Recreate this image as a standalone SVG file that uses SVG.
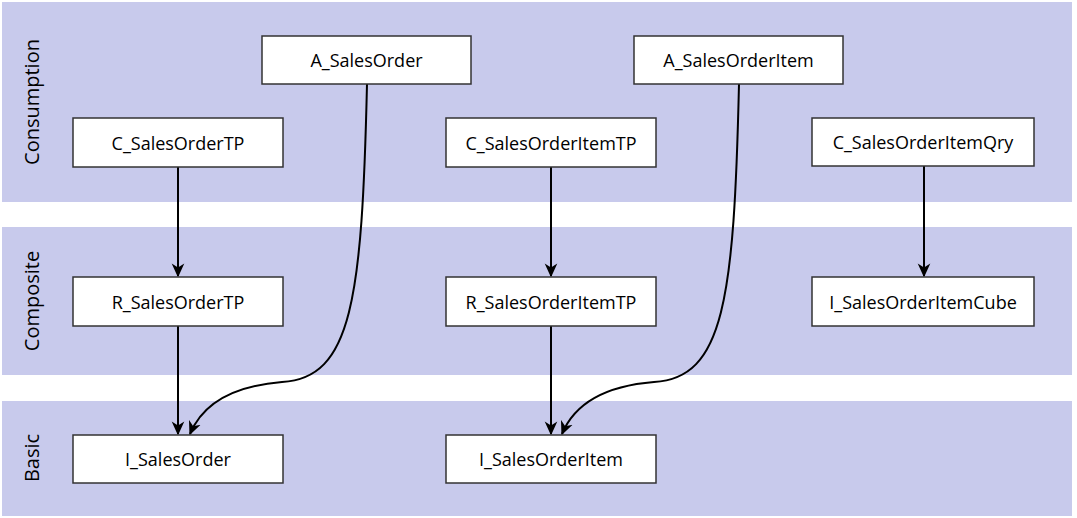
<svg xmlns="http://www.w3.org/2000/svg" width="1077" height="518" viewBox="0 0 1077 518">
<style>
.band{fill:#c8caec}
.box{fill:#fff;stroke:#333;stroke-width:1.5}
.lbl{font-family:"Open Sans","Noto Sans",sans-serif;font-size:18px;fill:#000;text-anchor:middle;dominant-baseline:central}
.lane{font-family:"Open Sans","Noto Sans",sans-serif;font-size:20px;fill:#000;text-anchor:middle;dominant-baseline:central}
.edge{fill:none;stroke:#000;stroke-width:2}
</style>
<defs>
<marker id="arr" viewBox="0 0 10 10" refX="9" refY="5" markerWidth="14" markerHeight="14" markerUnits="userSpaceOnUse" orient="auto">
<path d="M0,0.5 L10,5 L0,9.5 L3,5 Z" fill="#000"/>
</marker>
</defs>
<g id="lanes">
<rect class="band" x="2" y="2" width="1070" height="200"/>
<rect class="band" x="2" y="227" width="1070" height="148"/>
<rect class="band" x="2" y="401" width="1070" height="115"/>
<text class="lane" transform="translate(31,102) rotate(-90)">Consumption</text>
<text class="lane" transform="translate(31,301) rotate(-90)">Composite</text>
<text class="lane" transform="translate(31,458) rotate(-90)">Basic</text>
</g>
<g id="connectors">
<line class="edge" x1="178" y1="167" x2="178" y2="276" marker-end="url(#arr)"/>
<line class="edge" x1="551" y1="167" x2="551" y2="276" marker-end="url(#arr)"/>
<line class="edge" x1="924" y1="166" x2="924" y2="276" marker-end="url(#arr)"/>
<line class="edge" x1="178" y1="326" x2="178" y2="434" marker-end="url(#arr)"/>
<line class="edge" x1="551" y1="326" x2="551" y2="434" marker-end="url(#arr)"/>
<path class="edge" d="M367,84 C362,300 352,378 282,382 C232,386 202,405 190,434" marker-end="url(#arr)"/>
<path class="edge" d="M739,84 C734,300 724,378 654,382 C604,386 574,405 562,434" marker-end="url(#arr)"/>
</g>
<g id="n-A_SalesOrder"><rect class="box" x="262" y="36" width="209" height="48"/><text class="lbl" x="366.5" y="60">A_SalesOrder</text></g>
<g id="n-A_SalesOrderItem"><rect class="box" x="634" y="36" width="209" height="48"/><text class="lbl" x="738.5" y="60">A_SalesOrderItem</text></g>
<g id="n-C_SalesOrderTP"><rect class="box" x="73" y="118" width="210" height="49"/><text class="lbl" x="178" y="142.5">C_SalesOrderTP</text></g>
<g id="n-C_SalesOrderItemTP"><rect class="box" x="446" y="118" width="210" height="49"/><text class="lbl" x="551" y="142.5">C_SalesOrderItemTP</text></g>
<g id="n-C_SalesOrderItemQry"><rect class="box" x="812" y="118" width="222" height="48"/><text class="lbl" x="923" y="142">C_SalesOrderItemQry</text></g>
<g id="n-R_SalesOrderTP"><rect class="box" x="73" y="277" width="210" height="49"/><text class="lbl" x="178" y="301.5">R_SalesOrderTP</text></g>
<g id="n-R_SalesOrderItemTP"><rect class="box" x="446" y="277" width="210" height="49"/><text class="lbl" x="551" y="301.5">R_SalesOrderItemTP</text></g>
<g id="n-I_SalesOrderItemCube"><rect class="box" x="812" y="277" width="222" height="49"/><text class="lbl" x="923" y="301.5">I_SalesOrderItemCube</text></g>
<g id="n-I_SalesOrder"><rect class="box" x="73" y="435" width="210" height="48"/><text class="lbl" x="178" y="459">I_SalesOrder</text></g>
<g id="n-I_SalesOrderItem"><rect class="box" x="446" y="435" width="210" height="48"/><text class="lbl" x="551" y="459">I_SalesOrderItem</text></g>
</svg>
